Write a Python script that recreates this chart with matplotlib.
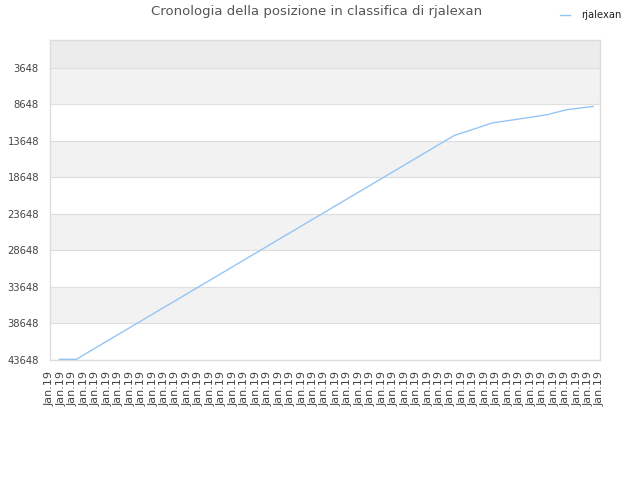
import numpy as np
import matplotlib
matplotlib.use("Agg")
import matplotlib.pyplot as plt

# x positions in tick units (49 ticks, all labelled Jan.19)
x_pos = [0.8, 2.3, 35.3, 36.5, 38.6, 41.0, 43.4, 45.1, 47.4]
rank = [43550, 43550, 12900, 12300, 11200, 10650, 10070, 9390, 8940]
tick_labels = ["Jan.19"] * 49
y_ticks = list(range(3648, 43649, 5000))

fig = plt.figure(figsize=(6.4, 4.8), dpi=100)
ax = fig.add_axes([50 / 640, 120 / 480, 550 / 640, 320 / 480])

y_top = -150
y_bottom = 43648

# alternating background bands
ax.axhspan(y_top, 3648, color="#ececec", zorder=0, lw=0)
for i, lo in enumerate(y_ticks[:-1]):
    hi = lo + 5000
    if i % 2 == 0:
        ax.axhspan(lo, hi, color="#f2f2f2", zorder=0, lw=0)

for yt in y_ticks:
    ax.axhline(yt, color="#dedede", lw=0.8, zorder=1)

ax.plot(x_pos, rank, color="#94c5f4", lw=1.0, zorder=3, label="rjalexan")

ax.set_xlim(0, 48)
ax.set_ylim(y_bottom, y_top)
ax.set_xticks(np.arange(49))
ax.set_xticklabels(tick_labels, rotation=90, fontsize=8, color="#444444")
ax.set_yticks(y_ticks)
ax.set_yticklabels([str(v) for v in y_ticks], fontsize=7.2, color="#444444")
ax.tick_params(axis="x", length=0, pad=8)
ax.tick_params(axis="y", length=0, pad=8)

for s in ax.spines.values():
    s.set_color("#dddddd")
    s.set_linewidth(1)

fig.text(317 / 640, 1 - 12 / 480, "Cronologia della posizione in classifica di rjalexan",
         ha="center", va="center", fontsize=9.5, color="#555555")

fig.legend(loc="upper right", bbox_to_anchor=(630 / 640, 1 - 1 / 480), frameon=False,
           fontsize=7.2, handlelength=1.0, handletextpad=1.1, labelcolor="#222222")

fig.savefig("out.png", dpi=100)
